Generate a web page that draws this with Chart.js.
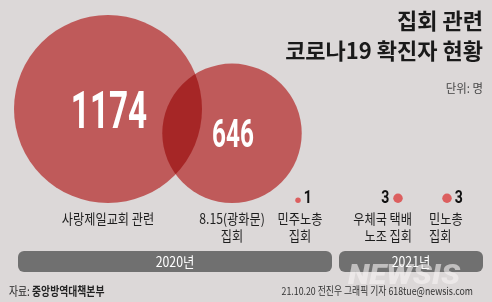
<!DOCTYPE html>
<html>
<head>
<meta charset="utf-8">
<script src="https://cdn.jsdelivr.net/npm/chart.js@4"></script>
<style>
  html, body { margin: 0; padding: 0; background: #dcd8d8; }
  #wrap { width: 492px; height: 302px; }
</style>
</head>
<body>
<div id="wrap"><canvas id="chart-jiphoe" width="492" height="302"></canvas></div>
<script>
// data
const categories = [
  ['사랑제일교회 관련'],
  ['8.15(광화문)', '집회'],
  ['민주노총', '집회'],
  ['우체국 택배', '노조 집회'],
  ['민노총', '집회']
];
const values = [1174, 646, 1, 3, 3];
const years = ['2020년', '2021년'];
const yearOf = [0, 0, 0, 1, 1];

// layout (pixel units, the scales map 1:1 onto the canvas)
const slotX = [108, 232, 298, 398, 447];
const baseY = 203;
const rScale = 94 / Math.sqrt(1174);
const labelPos = [
  { x: 108, align: 'center' },
  { x: 232, align: 'center' },
  { x: 300, align: 'center' },
  { x: 412, align: 'right' },
  { x: 429, align: 'left' }
];
const valuePos = ['inside', 'inside', 'right', 'left', 'right'];
const yearBars = [[18, 332], [339, 483]];
const BG = '#dcd8d8';
const KR = '"Noto Sans CJK KR", "Noto Sans", sans-serif';

function txt(ctx, s, x, y, font, color, align, sx, baseline) {
  ctx.save();
  ctx.font = font;
  ctx.fillStyle = color;
  ctx.textAlign = align;
  ctx.textBaseline = baseline || 'middle';
  ctx.translate(x, y);
  ctx.scale(sx, 1);
  ctx.fillText(s, 0, 0);
  ctx.restore();
}

function roundRect(ctx, x, y, w, h, r) {
  ctx.beginPath();
  ctx.moveTo(x + r, y);
  ctx.arcTo(x + w, y, x + w, y + h, r);
  ctx.arcTo(x + w, y + h, x, y + h, r);
  ctx.arcTo(x, y + h, x, y, r);
  ctx.arcTo(x, y, x + w, y, r);
  ctx.closePath();
}

const bgPlugin = {
  id: 'bg',
  beforeDraw(chart) {
    const ctx = chart.ctx;
    ctx.save();
    ctx.fillStyle = BG;
    ctx.fillRect(0, 0, chart.width, chart.height);
    ctx.restore();
  },
  beforeDatasetsDraw(chart) {
    chart.ctx.save();
    chart.ctx.globalCompositeOperation = 'multiply';
  },
  afterDatasetsDraw(chart) {
    chart.ctx.restore();
  }
};

const textPlugin = {
  id: 'texts',
  afterDraw(chart) {
    const ctx = chart.ctx;
    const meta = chart.getDatasetMeta(0);

    // title
    txt(ctx, '집회 관련', 483, 21, 'bold 22px ' + KR, '#1a1a1a', 'right', 1);
    txt(ctx, '코로나19 확진자 현황', 483, 51, 'bold 22px ' + KR, '#1a1a1a', 'right', 1);
    txt(ctx, '단위: 명', 483, 88, '12px ' + KR, '#444', 'right', 0.95);

    // values
    meta.data.forEach((el, i) => {
      const r = el.options.radius;
      if (valuePos[i] === 'inside') {
        const size = i === 0 ? 52 : 38;
        txt(ctx, String(values[i]), el.x + 1, el.y + size * 0.36, 'bold ' + size + 'px Roboto', '#fff', 'center', 0.64, 'alphabetic');
      } else if (valuePos[i] === 'right') {
        txt(ctx, String(values[i]), el.x + r + 7, baseY, 'bold 18px Roboto', '#111', 'center', 0.78, 'alphabetic');
      } else {
        txt(ctx, String(values[i]), el.x - r - 8, baseY, 'bold 18px Roboto', '#111', 'center', 0.78, 'alphabetic');
      }
    });

    // category labels
    categories.forEach((lines, i) => {
      lines.forEach((s, j) => {
        txt(ctx, s, labelPos[i].x, 219 + j * 17, '14px ' + KR, '#1e1e1e', labelPos[i].align, 0.87);
      });
    });

    // year bars
    years.forEach((y, k) => {
      const [x0, x1] = yearBars[k];
      ctx.save();
      ctx.fillStyle = '#707070';
      roundRect(ctx, x0, 251, x1 - x0, 21, 6);
      ctx.fill();
      ctx.restore();
      txt(ctx, y, (x0 + x1) / 2, 262, '14px ' + KR, '#fff', 'center', 0.88);
    });

    // watermark
    ctx.save();
    ctx.globalAlpha = 0.6;
    txt(ctx, 'NEWSIS', 404, 284, 'italic 900 28px Roboto', '#f6f4f4', 'center', 1.12, 'alphabetic');
    ctx.restore();

    // footer
    ctx.save();
    ctx.font = '12px ' + KR;
    const w = ctx.measureText('자료: ').width * 0.82;
    ctx.restore();
    txt(ctx, '자료: ', 9, 291, '12px ' + KR, '#222', 'left', 0.82);
    txt(ctx, '중앙방역대책본부', 9 + w, 291, 'bold 12px ' + KR, '#222', 'left', 0.82);
    txt(ctx, '21.10.20 전진우 그래픽 기자 618tue@newsis.com', 473, 291, '11px ' + KR, '#333', 'right', 0.8);
  }
};

const bubbleData = values.map((v, i) => {
  const r = rScale * Math.sqrt(v);
  return { x: slotX[i], y: baseY - r, r: r };
});

new Chart(document.getElementById('chart-jiphoe'), {
  type: 'bubble',
  data: {
    labels: categories.map(c => c.join(' ')),
    datasets: [
      {
        data: bubbleData,
        borderWidth: 0,
        backgroundColor: values.map(v => v > 100 ? '#de6a6a' : '#ff7070'),
        clip: false
      }
    ]
  },
  options: {
    responsive: false,
    animation: false,
    layout: { padding: 0, autoPadding: false },
    scales: {
      x: { type: 'linear', min: 0, max: 492, display: false },
      y: { type: 'linear', min: 0, max: 302, reverse: true, display: false }
    },
    plugins: {
      legend: { display: false },
      tooltip: { enabled: false }
    }
  },
  plugins: [bgPlugin, textPlugin]
});
</script>
</body>
</html>
